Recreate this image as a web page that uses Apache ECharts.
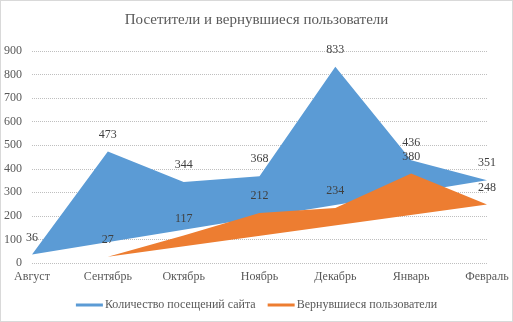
<!DOCTYPE html>
<html>
<head>
<meta charset="utf-8">
<script src="https://cdn.jsdelivr.net/npm/echarts@6/dist/echarts.min.js"></script>
<style>
  html, body { margin: 0; padding: 0; background: #fff; }
  #chart {
    width: 513px;
    height: 322px;
    box-sizing: border-box;
    border: 1px solid #d9d9d9;
  }
</style>
</head>
<body>
<div id="chart"></div>
<script>
const months = ["Август", "Сентябрь", "Октябрь", "Ноябрь", "Декабрь", "Январь", "Февраль"];
const visits = [36, 473, 344, 368, 833, 436, 351];
const returning = [null, 27, 117, 212, 234, 380, 248];
const yTicks = [0, 100, 200, 300, 400, 500, 600, 700, 800, 900];

const visitsName = "Количество посещений сайта";
const returningName = "Вернувшиеся пользователи";
const colors = ["#5B9BD5", "#ED7D31"];
const font = "'Liberation Serif', 'Times New Roman', serif";

// closed polygon: points in order, then straight back to the first one
const polygonRenderer = (values, color) => (params, api) => {
  if (params.dataIndex !== values.length - 1) return null;
  const points = [];
  values.forEach((v, i) => {
    if (v !== null) points.push(api.coord([i, v]));
  });
  return {
    type: "polygon",
    shape: { points: points },
    style: { fill: color },
  };
};

const labelSeries = (name, values) => ({
  name: name,
  type: "line",
  data: values,
  symbol: "circle",
  symbolSize: 0,
  lineStyle: { opacity: 0 },
  z: 10,
  silent: true,
  label: {
    show: true,
    position: "top",
    distance: 11,
    fontFamily: font,
    fontSize: 12,
    color: "#404040",
  },
});

const myChart = echarts.init(document.getElementById("chart"));

const option = {
  animation: false,
  color: colors,
  title: {
    text: "Посетители и вернувшиеся пользователи",
    left: "center",
    top: 7,
    textStyle: {
      fontFamily: font,
      fontSize: 15,
      fontWeight: "normal",
      color: "#595959",
    },
  },
  legend: {
    data: [
      { name: visitsName, itemStyle: { color: colors[0] } },
      { name: returningName, itemStyle: { color: colors[1] } },
    ],
    bottom: 5,
    left: "center",
    icon: "rect",
    itemWidth: 27,
    itemHeight: 3,
    itemGap: 12,
    textStyle: {
      fontFamily: font,
      fontSize: 12,
      color: "#595959",
      padding: [0, 0, 0, -3],
    },
  },
  grid: {
    left: 30,
    right: 25,
    top: 50,
    bottom: 58,
  },
  xAxis: {
    type: "category",
    boundaryGap: false,
    data: months,
    axisLine: { show: false },
    axisTick: { show: false },
    axisLabel: {
      margin: 8,
      fontFamily: font,
      fontSize: 12,
      color: "#595959",
    },
  },
  yAxis: {
    type: "value",
    min: yTicks[0],
    max: yTicks[yTicks.length - 1],
    interval: yTicks[1] - yTicks[0],
    axisLine: { show: false },
    axisTick: { show: false },
    axisLabel: {
      margin: 10,
      fontFamily: font,
      fontSize: 12,
      color: "#595959",
    },
    splitLine: {
      lineStyle: { type: "dotted", color: "#bfbfbf", width: 1 },
    },
  },
  series: [
    {
      name: visitsName,
      type: "custom",
      data: visits,
      renderItem: polygonRenderer(visits, colors[0]),
      z: 2,
    },
    {
      name: returningName,
      type: "custom",
      data: returning,
      renderItem: polygonRenderer(returning, colors[1]),
      z: 3,
    },
    labelSeries(visitsName, visits),
    labelSeries(returningName, returning),
  ],
};

myChart.setOption(option);
</script>
</body>
</html>
